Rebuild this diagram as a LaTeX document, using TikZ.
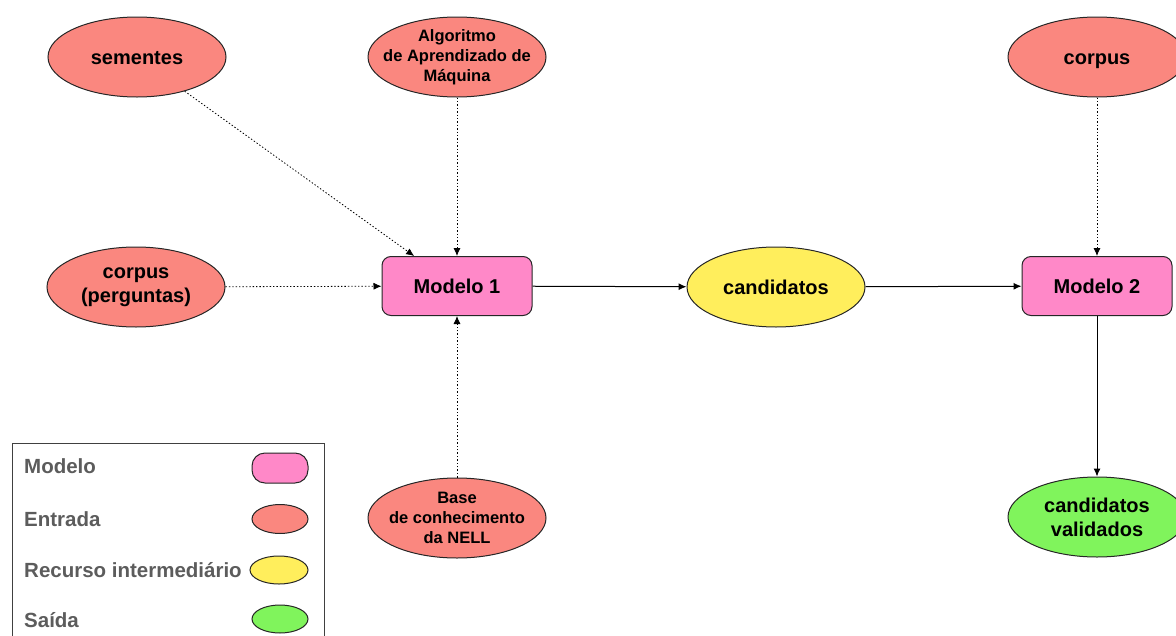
\documentclass[tikz,border=0pt]{standalone}
\usepackage{fontspec}
\setmainfont{Liberation Sans}
\usetikzlibrary{shapes.geometric,arrows.meta}
\definecolor{modelpink}{HTML}{FF88C8}
\definecolor{inputsalmon}{HTML}{FA877F}
\definecolor{midyellow}{HTML}{FFEE5C}
\definecolor{outgreen}{HTML}{80F45C}
\definecolor{legendgray}{HTML}{5C5C5C}
\tikzset{
  bigtext/.style={font=\fontsize{20}{24}\selectfont\bfseries, align=center},
  oneline/.style={bigtext, text height=14pt, text depth=0pt},
  smalltext/.style={font=\fontsize{16.5}{20}\selectfont\bfseries, align=center,
    inner xsep=-15pt, inner ysep=-4pt},
  modelbox/.style={draw=black!85, line width=1pt, fill=modelpink, rounded corners=9pt,
    minimum width=150pt, minimum height=59pt, inner sep=0pt, oneline},
  blob/.style={draw=black!85, line width=1pt, ellipse, inner sep=0pt,
    minimum width=178pt, minimum height=80pt},
  keyblob/.style={draw=black!85, line width=1pt, ellipse, inner sep=0pt,
    minimum width=56pt, minimum height=29pt},
  dotflow/.style={line width=0.8pt, dash pattern=on 1.4pt off 2pt, -{Latex[length=8pt,width=7pt]}},
  flow/.style={line width=1pt, -{Latex[length=8pt,width=7pt]}},
  legendtext/.style={font=\fontsize{20.5}{24}\selectfont\bfseries, text=legendgray, anchor=west, inner sep=0pt},
}
\begin{document}
\begin{tikzpicture}[x=1pt,y=-1pt]
\useasboundingbox (0,0) rectangle (1176,635);

% models
\node[modelbox] (m1) at (457,286) {Modelo 1};
\node[modelbox] (m2) at (1097,286) {Modelo 2};

% inputs
\node[blob, fill=inputsalmon, oneline] (sem) at (137,57) {sementes};
\node[blob, fill=inputsalmon, smalltext] (alg) at (457,57) {Algoritmo\\de Aprendizado de\\Máquina};
\node[blob, fill=inputsalmon, oneline] (corp) at (1097,57) {corpus};
\node[blob, fill=inputsalmon, bigtext] (perg) at (136,287) {corpus\\(perguntas)};
\node[blob, fill=inputsalmon, smalltext] (base) at (457,518) {Base\\de conhecimento\\da NELL};

% intermediate and output
\node[blob, fill=midyellow, oneline] (cand) at (776,287) {candidatos};
\node[blob, fill=outgreen, bigtext] (val) at (1097,517) {candidatos\\validados};

% connectors
\draw[dotflow] (sem) -- (m1.145);
\draw[dotflow] (alg) -- (m1);
\draw[dotflow] (perg) -- (m1);
\draw[dotflow] (base) -- (m1);
\draw[flow] (m1) -- (cand);
\draw[flow] (cand) -- (m2);
\draw[dotflow] (corp) -- (m2);
\draw[flow] (m2) -- (val);

% legend
\draw[line width=1pt, black!75] (12,640) -- (12,443) -- (324,443) -- (324,640);
\node[legendtext] (lm) at (24,466) {Modelo};
\node[legendtext] (le) at (24,519) {Entrada};
\node[legendtext] (lr) at (24,570) {Recurso intermediário};
\node[legendtext] (ls) at (24,620) {Saída};
\node[draw=black!85, line width=1pt, fill=modelpink, rounded corners=13pt, minimum width=56pt, minimum height=30pt, inner sep=0pt] (km) at (280,468) {};
\node[keyblob, fill=inputsalmon] (ke) at (280,519) {};
\node[keyblob, fill=midyellow, minimum width=58pt, minimum height=28pt] (kr) at (279,570) {};
\node[keyblob, fill=outgreen, minimum height=28pt] (ks) at (280,619) {};
\end{tikzpicture}
\end{document}
